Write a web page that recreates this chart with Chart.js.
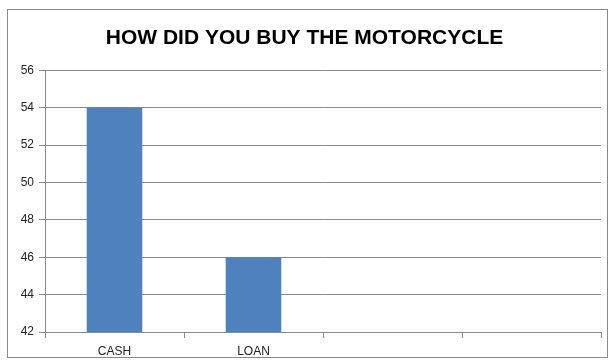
<!DOCTYPE html>
<html>
<head>
<meta charset="utf-8">
<script src="https://cdn.jsdelivr.net/npm/chart.js@4"></script>
<style>
    html, body { margin: 0; padding: 0; background: #fff; }
    #wrap { position: relative; width: 614px; height: 362px; }
    #frame { position: absolute; left: 7px; top: 9px; width: 601px; height: 349px; border: 1px solid #8a8a8a; box-sizing: border-box; }
    canvas { position: absolute; left: 0; top: 0; }
</style>
</head>
<body>
<div id="wrap">
    <div id="frame"></div>
    <canvas id="buyChart" width="614" height="362"></canvas>
</div>
<script>
// 데이터
const categories = ['CASH', 'LOAN', '', ''];
const answers = [54, 46, null, null];
const yMin = 42;
const yMax = 56;
const yStep = 2;

document.addEventListener('DOMContentLoaded', function() {
    const ctx = document.getElementById('buyChart');
    new Chart(ctx, {
        type: 'bar',
        data: {
            labels: categories,
            datasets: [{
                data: answers,
                backgroundColor: '#4f81bd',
                categoryPercentage: 1.0,
                barPercentage: 0.4
            }]
        },
        options: {
            responsive: false,
            animation: false,
            layout: { padding: { left: 8, right: 13, top: 0, bottom: 0 } },
            plugins: {
                legend: { display: false },
                tooltip: { enabled: false },
                title: {
                    display: true,
                    text: 'HOW DID YOU BUY THE MOTORCYCLE',
                    color: '#000',
                    font: { family: 'Liberation Sans', size: 21, weight: 'bold', lineHeight: 1.2 },
                    padding: { top: 26, bottom: 19 }
                }
            },
            scales: {
                x: {
                    grid: { display: true, drawOnChartArea: false, drawTicks: true, tickLength: 6, color: '#8a8a8a', offset: true },
                    border: { color: '#8a8a8a' },
                    ticks: { color: '#222', padding: 6, font: { family: 'Liberation Sans', size: 12 } },
                    afterFit: function(scale) { scale.height = 30; }
                },
                y: {
                    min: yMin,
                    max: yMax,
                    grid: { color: '#8a8a8a', tickLength: 6 },
                    border: { color: '#8a8a8a' },
                    ticks: { stepSize: yStep, color: '#222', padding: 5, font: { family: 'Liberation Sans', size: 12 } },
                    afterFit: function(scale) { scale.width = 37; }
                }
            }
        }
    });
});
</script>
</body>
</html>
